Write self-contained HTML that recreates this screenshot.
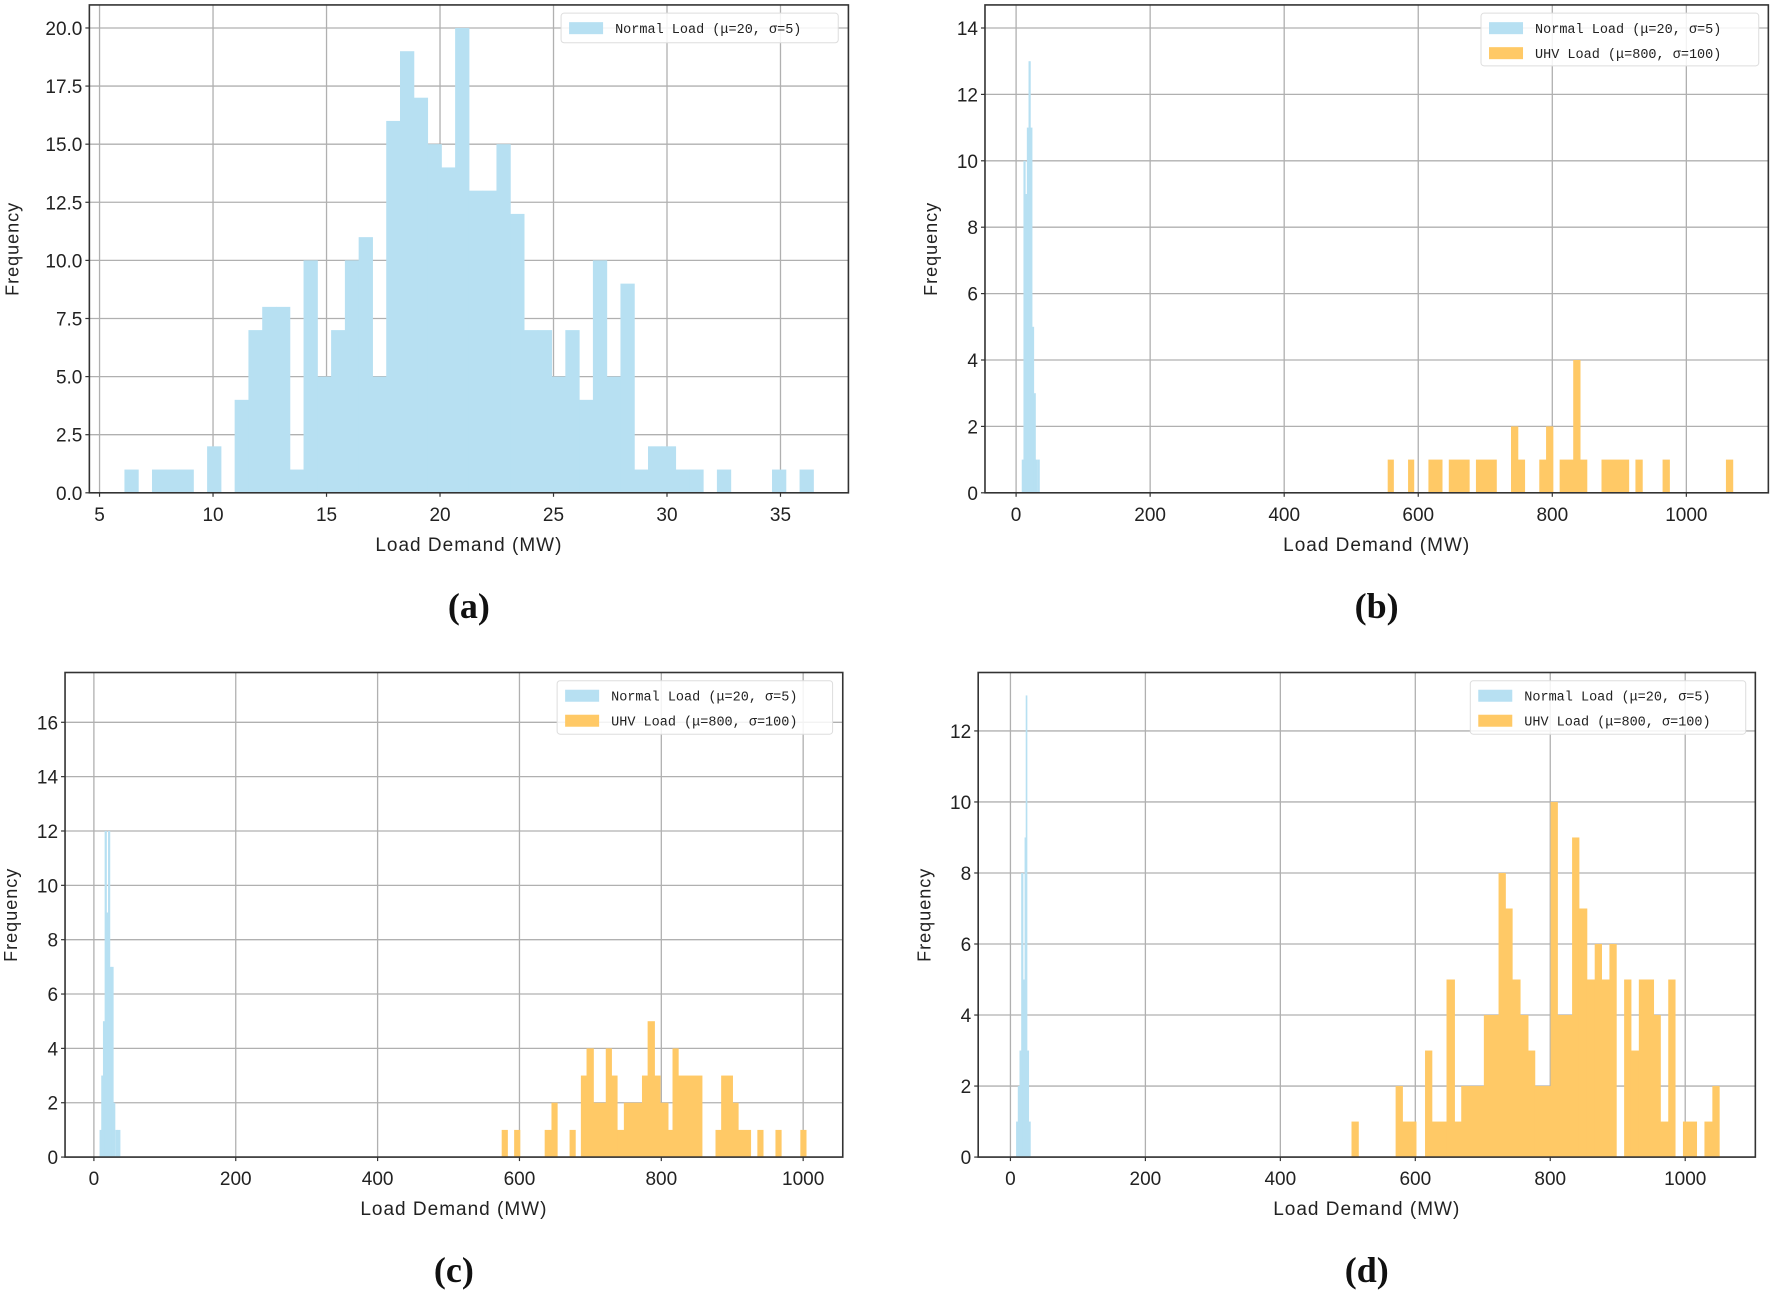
<!DOCTYPE html>
<html><head><meta charset="utf-8"><style>
html,body{margin:0;padding:0;background:#fff;}
svg{display:block;}
</style></head><body>
<svg id="s" width="1772" height="1294" xmlns="http://www.w3.org/2000/svg" font-family="Liberation Sans, sans-serif"></svg>
<script>
const S=document.getElementById('s');
const NS='http://www.w3.org/2000/svg';
function el(t,a,txt){const e=document.createElementNS(NS,t);for(const k in a)e.setAttribute(k,a[k]);if(txt!==undefined)e.textContent=txt;S.appendChild(e);return e;}
const KX=1.768,KY=2.431;
const BLUE='#b7e0f2',ORANGE='#ffc966';
function panel(p){
  const X=z=>z/KX+p.ox, Y=z=>z/KY+p.oy;
  const L=X(p.f[0]),R=X(p.f[1]),T=Y(p.f[2]),B=Y(p.f[3]);
  p.xt.forEach(v=>{const x=X(p.xz(v));el('line',{x1:x,x2:x,y1:T,y2:B,stroke:'#b0b0b0','stroke-width':1.3});});
  p.yt.forEach(v=>{const y=Y(p.yz(v));el('line',{x1:L,x2:R,y1:y,y2:y,stroke:'#b0b0b0','stroke-width':1.3});});
  const bar=(z1,z2,h,c)=>{if(h<=0)return;const y=Y(p.yz(h));el('rect',{x:X(z1),y:y,width:Math.max(X(z2)-X(z1)+0.5,0.6),height:B-y,fill:c});};
  (p.blue||[]).forEach(b=>bar(b[0],b[1],b[2],BLUE));
  (p.orange||[]).forEach(b=>bar(b[0],b[1],b[2],ORANGE));
  el('rect',{x:L,y:T,width:R-L,height:B-T,fill:'none',stroke:'#333','stroke-width':1.6});
  p.xt.forEach(v=>{const x=X(p.xz(v));el('line',{x1:x,x2:x,y1:B,y2:B+4,stroke:'#333','stroke-width':1.2});
    el('text',{x:x,y:B+28,'text-anchor':'middle','font-size':19,fill:'#222'},String(v));});
  p.yt.forEach(v=>{const y=Y(p.yz(v));el('line',{x1:L-4,x2:L,y1:y,y2:y,stroke:'#333','stroke-width':1.2});
    el('text',{x:L-7,y:y+7,'text-anchor':'end','font-size':19,fill:'#222'},p.yf(v));});
  el('text',{x:(L+R)/2,y:B+58,'text-anchor':'middle','font-size':19,fill:'#222','letter-spacing':'1'},'Load Demand (MW)');
  const yx=X(p.ylx), ym=(T+B)/2;
  el('text',{x:yx,y:ym,'text-anchor':'middle','font-size':18,fill:'#222',transform:`rotate(-90 ${yx} ${ym})`,'dominant-baseline':'middle','letter-spacing':'1'},'Frequency');
  el('text',{x:(L+R)/2,y:B+125,'text-anchor':'middle','font-size':36,'font-weight':'bold','font-family':'Liberation Serif, serif',fill:'#111'},p.cap);
  const lg=p.lg; const lx=X(lg[0]),rx=X(lg[1]),ty=Y(lg[2]),by=Y(lg[3]);
  el('rect',{x:lx,y:ty,width:rx-lx,height:by-ty,fill:'#fff','fill-opacity':0.85,stroke:'#ddd','stroke-width':1,rx:3});
  const rows=p.two?[['Normal Load (μ=20, σ=5)',BLUE],['UHV Load (μ=800, σ=100)',ORANGE]]:[['Normal Load (μ=20, σ=5)',BLUE]];
  rows.forEach((r,i)=>{const cy=ty+15+i*25;
    el('rect',{x:lx+8,y:cy-6,width:34,height:12,fill:r[1]});
    el('text',{x:lx+54,y:cy+5,'font-size':13.5,fill:'#222','font-family':'Liberation Mono, monospace'},r[0]);});
}
(function(){
 const h=[1,0,1,1,1,0,2,0,4,7,8,8,1,10,5,7,10,11,5,16,19,17,15,14,20,13,13,15,12,7,7,5,7,4,10,5,9,1,2,2,1,1,0,1,0,0,0,1,0,1];
 const bw=24.36, blue=h.map((v,i)=>[220+i*bw,220+(i+1)*bw,v]);
 panel({ox:0,oy:0,f:[158,1500,12,1198],xt:[5,10,15,20,25,30,35],xz:v=>176+(v-5)*40.13,
  yt:[0,2.5,5,7.5,10,12.5,15,17.5,20],yz:v=>1198-v*56.5,yf:v=>v.toFixed(1),
  blue:blue,ylx:24,cap:'(a)',lg:[992,1482,32,104],two:false});
})();
function narrow(list){return list.map(a=>[a[0],a[0]+a[1],a[2]]);}
panel({ox:886,oy:0,f:[175,1560,12,1198],xt:[0,200,400,600,800,1000],xz:v=>230+v*1.185,
 yt:[0,2,4,6,8,10,12,14],yz:v=>1198-v*80.71,yf:v=>String(v),
 blue:narrow([[240,3,1],[243,3,10],[246,3,9],[249,3,11],[252,3,13],[255,3,11],[258,3,5],[261,3,3],[264,3,1],[268,3,1]]),
 orange:[[887,897,1],[923,933,1],[959,983,1],[995,1031,1],[1043,1079,1],[1105,1117,2],[1117,1129,1],[1155,1167,1],[1167,1179,2],[1191,1215,1],[1215,1227,4],[1227,1239,1],[1265,1313,1],[1325,1337,1],[1373,1385,1],[1485,1497,1]],
 ylx:82,cap:'(b)',lg:[1052,1543,32,160],two:true});
panel({ox:0,oy:647,f:[115,1490,62,1240],xt:[0,200,400,600,800,1000],xz:v=>166+v*1.254,
 yt:[0,2,4,6,8,10,12,14,16],yz:v=>1240-v*66.06,yf:v=>String(v),
 blue:narrow([[176,3,1],[179,3,3],[182,3,5],[185,3,12],[188,3,9],[191,3,12],[194,3,7],[197,3,7],[200,3,2],[204,3,1],[207,5,1]]),
 orange:[[887,897,1],[909,919,1],[963,975,1],[975,985,2],[1007,1017,1],[1027,1037,3],[1037,1049,4],[1049,1071,2],[1071,1081,4],[1081,1091,3],[1091,1103,1],[1103,1135,2],[1135,1145,3],[1145,1157,5],[1157,1167,3],[1167,1181,2],[1181,1189,1],[1189,1199,4],[1199,1241,3],[1265,1275,1],[1275,1295,3],[1295,1305,2],[1305,1327,1],[1339,1349,1],[1371,1381,1],[1415,1425,1]],
 ylx:22,cap:'(c)',lg:[985,1472,82,212],two:true});
panel({ox:886,oy:647,f:[163,1537,62,1240],xt:[0,200,400,600,800,1000],xz:v=>220+v*1.193,
 yt:[0,2,4,6,8,10,12],yz:v=>1240-v*86.33,yf:v=>String(v),
 blue:narrow([[230,3,1],[233,3,2],[236,3,3],[239,3,8],[242,3,5],[245,2,9],[247,2,13],[249,3,3],[252,3,1]]),
 orange:[[823,835,1],[901,913,2],[913,937,1],[953,965,3],[965,991,1],[991,1005,5],[1005,1017,1],[1017,1057,2],[1057,1083,4],[1083,1095,8],[1095,1107,7],[1107,1121,5],[1121,1135,4],[1135,1147,3],[1147,1175,2],[1175,1187,10],[1187,1213,4],[1213,1225,9],[1225,1239,7],[1239,1253,5],[1253,1265,6],[1265,1279,5],[1279,1291,6],[1305,1317,5],[1317,1331,3],[1331,1357,5],[1357,1369,4],[1369,1383,1],[1383,1395,5],[1409,1433,1],[1447,1461,1],[1461,1473,2]],
 ylx:70,cap:'(d)',lg:[1033,1520,82,212],two:true});
</script>
</body></html>
